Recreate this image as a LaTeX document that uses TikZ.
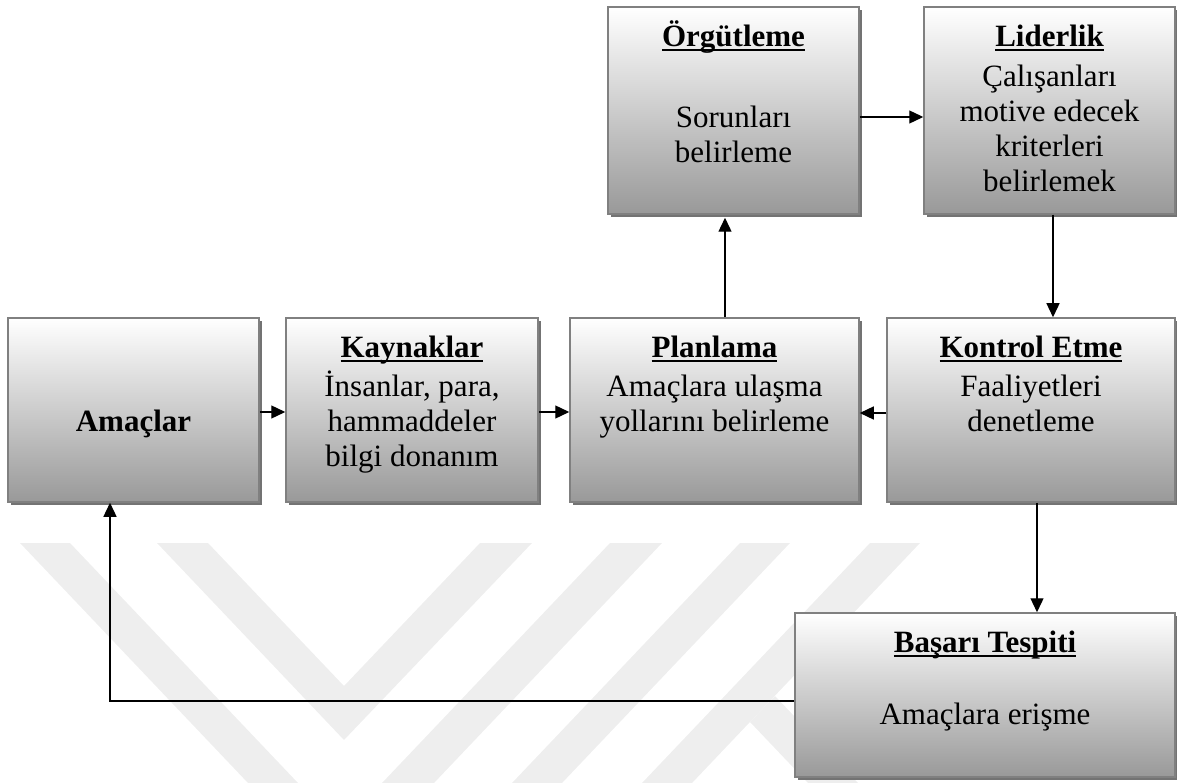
\documentclass[tikz,border=0pt]{standalone}
\usepackage{fontspec}
\setmainfont{Liberation Serif}
\usetikzlibrary{arrows.meta,calc}

\definecolor{wm}{gray}{0.935}
\definecolor{boxline}{gray}{0.5}
\definecolor{boxbottom}{gray}{0.6}
\definecolor{boxshade}{gray}{0.45}

% bold heading with a thick underline
\newcommand\hdline[1]{\setbox0\hbox{\bfseries #1}\rlap{\rule[-5pt]{\wd0}{2.2pt}}\box0}
\newcommand\topstrut{\rule{0pt}{28pt}}

\begin{document}
\begin{tikzpicture}[x=1pt,y=-1pt,
  box/.style={draw=boxline, line width=1.5pt, top color=white, bottom color=boxbottom,
    inner sep=0pt,
    preaction={fill=boxshade, transform canvas={xshift=3pt,yshift=-3pt}}},
  boxtext/.style={inner sep=0pt, align=center, anchor=north,
    font=\fontsize{31}{35}\selectfont},
  arr/.style={line width=1.3pt, -{Triangle[length=14pt,width=13pt]}}]

\useasboundingbox (0,0) rectangle (1177,783);

% faint background emblem
\fill[wm] (20,543) -- (70,543) -- (298,783) -- (248,783) -- cycle;
\fill[wm] (157,543) -- (208,543) -- (344,686) -- (480,543) -- (532,543) -- (344,740) -- cycle;
\fill[wm] (610,543) -- (662,543) -- (434,783) -- (382,783) -- cycle;
\fill[wm] (740,543) -- (790,543) -- (562,783) -- (512,783) -- cycle;
\fill[wm] (870,543) -- (920,543) -- (692,783) -- (642,783) -- cycle;
\fill[wm] (750,722) -- (775,696) -- (858,783) -- (808,783) -- cycle;

% boxes
\node[box, minimum width=251pt, minimum height=207pt] (org)  at (733.5,110.5) {};
\node[box, minimum width=251pt, minimum height=207pt] (lid)  at (1049.5,110.5) {};
\node[box, minimum width=251pt, minimum height=184pt] (ama)  at (133.5,410) {};
\node[box, minimum width=252pt, minimum height=184pt] (kay)  at (412,410) {};
\node[box, minimum width=289pt, minimum height=184pt] (plan) at (714.5,410) {};
\node[box, minimum width=288pt, minimum height=184pt] (kon)  at (1031,410) {};
\node[box, minimum width=380pt, minimum height=164pt] (bas)  at (985,695) {};

% box texts
\node[boxtext] (org-t) at ([yshift=-12pt]org.north)
  {\topstrut\hdline{Örgütleme}\\[46pt]Sorunları\\belirleme};
\node[boxtext] (lid-t) at ([yshift=-12pt]lid.north)
  {\topstrut\hdline{Liderlik}\\[5pt]Çalışanları\\motive edecek\\kriterleri\\belirlemek};
\node[boxtext] (ama-t) at ([yshift=-86pt]ama.north)
  {\topstrut\bfseries Amaçlar};
\node[boxtext] (kay-t) at ([yshift=-12pt]kay.north)
  {\topstrut\hdline{Kaynaklar}\\[4pt]İnsanlar, para,\\hammaddeler\\bilgi donanım};
\node[boxtext] (plan-t) at ([yshift=-12pt]plan.north)
  {\topstrut\hdline{Planlama}\\[4pt]Amaçlara ulaşma\\yollarını belirleme};
\node[boxtext] (kon-t) at ([yshift=-12pt]kon.north)
  {\topstrut\hdline{Kontrol Etme}\\[4pt]Faaliyetleri\\denetleme};
\node[boxtext] (bas-t) at ([yshift=-12pt]bas.north)
  {\topstrut\hdline{Başarı Tespiti}\\[37pt]Amaçlara erişme};

% connectors
\draw[arr] ([yshift=-2pt]ama.east) -- ([yshift=-2pt]kay.west);
\draw[arr] ([yshift=-2pt]kay.east) -- ([yshift=-2pt]plan.west);
\draw[arr] ([yshift=-3pt]kon.west) -- ([yshift=-3pt]plan.east);
\draw[arr] (plan.north -| 725,0) -- ($(org.south -| 725,0)+(0,3)$);
\draw[arr] (org.east |- 0,117) -- (lid.west |- 0,117);
\draw[arr] (lid.south -| 1053,0) -- (kon.north -| 1053,0);
\draw[arr] (kon.south -| 1037,0) -- (bas.north -| 1037,0);
\draw[arr] (bas.west |- 0,701) -| (ama.south -| 110,0);

\end{tikzpicture}
\end{document}
